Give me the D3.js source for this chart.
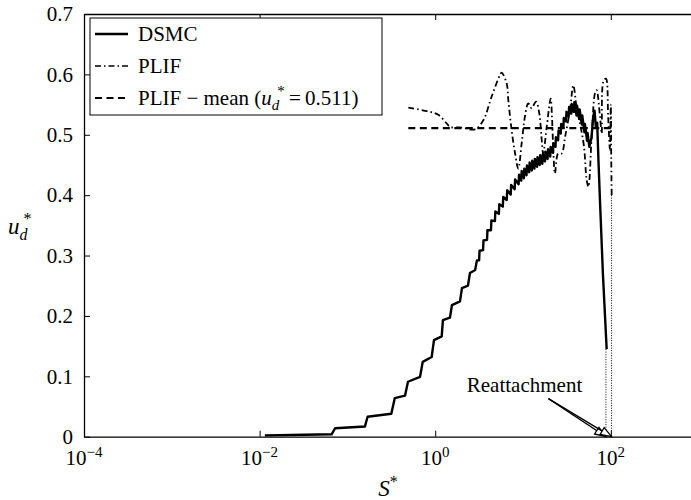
<!DOCTYPE html>
<html><head><meta charset="utf-8">
<script src="https://cdn.jsdelivr.net/npm/d3@7"></script>
<style>
body{margin:0;background:#fff}
svg{display:block;font-family:'Liberation Serif','Times New Roman',serif}
svg text{font-family:'Liberation Serif','Times New Roman',serif !important;fill:#000}
</style>
</head><body>
<svg id="chart" width="691" height="500"></svg>
<script>
// ---------- data ----------
const xTickValues = [1e-4, 1e-2, 1e0, 1e2];
const xTickExponents = ["\u22124", "\u22122", "0", "2"];
const yTickValues = [0, 0.1, 0.2, 0.3, 0.4, 0.5, 0.6, 0.7];
const yTickLabels = ["0", "0.1", "0.2", "0.3", "0.4", "0.5", "0.6", "0.7"];

// DSMC: log10(S*) and u_d*
const dsmcLogS = [
 -1.94, -1.18, -1.14, -0.80, -0.77, -0.50, -0.46, -0.344, -0.31, -0.173, -0.142, -0.04, -0.014,
 0.074, 0.088, 0.168, 0.191, 0.282, 0.305, 0.373, 0.396, 0.455, 0.475,
 0.50, 0.505, 0.545, 0.55, 0.59, 0.595, 0.635, 0.64, 0.68, 0.685, 0.725, 0.73, 0.77, 0.775,
 0.815, 0.82, 0.86, 0.865, 0.905, 0.91, 0.95, 0.955, 0.98, 0.985, 1.01, 1.015, 1.04, 1.045,
 1.07, 1.075, 1.10, 1.105, 1.13, 1.135, 1.16, 1.165, 1.19, 1.195, 1.22, 1.225, 1.25, 1.255,
 1.28, 1.285, 1.31, 1.315, 1.34, 1.345, 1.37, 1.375, 1.40, 1.405, 1.43, 1.435, 1.46, 1.465,
 1.49, 1.495, 1.52, 1.525, 1.55, 1.555, 1.58, 1.585, 1.61, 1.615, 1.64, 1.645, 1.67, 1.675,
 1.70, 1.705, 1.73, 1.735, 1.755, 1.78, 1.80, 1.815, 1.83, 1.845, 1.86, 1.877, 1.91, 1.953
];
const dsmcU = [
 0.002, 0.004, 0.014, 0.017, 0.033, 0.038, 0.064, 0.068, 0.091, 0.099, 0.124, 0.132, 0.160,
 0.166, 0.193, 0.197, 0.218, 0.224, 0.246, 0.250, 0.271, 0.276, 0.292,
 0.292, 0.308, 0.309, 0.325, 0.326, 0.342, 0.342, 0.358, 0.357, 0.373, 0.369, 0.385, 0.381, 0.397,
 0.392, 0.408, 0.401, 0.417, 0.410, 0.426, 0.418, 0.434, 0.424, 0.440, 0.428, 0.444, 0.433, 0.449,
 0.438, 0.454, 0.441, 0.457, 0.444, 0.460, 0.447, 0.463, 0.450, 0.466, 0.452, 0.468, 0.456, 0.472,
 0.460, 0.476, 0.464, 0.480, 0.470, 0.486, 0.480, 0.496, 0.491, 0.507, 0.502, 0.518, 0.512, 0.528,
 0.522, 0.538, 0.530, 0.546, 0.535, 0.551, 0.538, 0.554, 0.532, 0.548, 0.526, 0.542, 0.517, 0.532,
 0.504, 0.518, 0.490, 0.503, 0.480, 0.495, 0.530, 0.540, 0.512, 0.520, 0.455, 0.390, 0.270, 0.145
];

// PLIF
const plifLogS = [
 -0.306, -0.06, 0.036, 0.13, 0.168, 0.30, 0.453, 0.548, 0.642, 0.738, 0.757, 0.814, 0.833, 0.87,
 0.91, 0.946, 0.985, 1.022, 1.06, 1.098, 1.148, 1.186, 1.21, 1.23, 1.27, 1.315, 1.33, 1.345, 1.364,
 1.40, 1.44, 1.48, 1.535, 1.573, 1.61, 1.649, 1.695, 1.725, 1.745, 1.782, 1.82, 1.838, 1.877, 1.896,
 1.915, 1.945, 1.97, 1.99, 2.0, 2.005, 2.01
];
const plifU = [
 0.545, 0.538, 0.533, 0.519, 0.513, 0.512, 0.509, 0.524, 0.563, 0.599, 0.603, 0.585, 0.557, 0.508,
 0.469, 0.444, 0.486, 0.530, 0.552, 0.544, 0.555, 0.535, 0.497, 0.469, 0.513, 0.560, 0.530, 0.475, 0.436,
 0.469, 0.469, 0.497, 0.541, 0.582, 0.546, 0.519, 0.480, 0.425, 0.414, 0.497, 0.569, 0.574, 0.530, 0.502,
 0.588, 0.593, 0.530, 0.475, 0.550, 0.460, 0.400
];

// PLIF mean
const plifMeanValue = 0.511;
const plifMeanS = [0.494, 102];

// reattachment markers (dotted verticals) and annotation
const reattachS = [88, 102];
const reattachTop = [0.145, 0.400];
const annotationText = "Reattachment";
const annotationAnchor = [10.4, 0.074];   // S*, u_d* of text baseline centre
const arrowStart = [19.5, 0.063];

// ---------- layout ----------
const FONT = "'Liberation Serif','Times New Roman',serif";
const svg = d3.select("#chart");
const mLeft = 84, mRight = 698.6, mTop = 14, mBottom = 436.7;
const x = d3.scaleLog().domain([1e-4, 1e3]).range([mLeft, mRight]);
const y = d3.scaleLinear().domain([0, 0.7]).range([mBottom, mTop]);

svg.append("defs").append("clipPath").attr("id", "plotclip")
  .append("rect").attr("x", mLeft).attr("y", mTop).attr("width", mRight - mLeft).attr("height", mBottom - mTop);

const plot = svg.append("g").attr("clip-path", "url(#plotclip)");

const line = d3.line().x(d => x(d[0])).y(d => y(d[1]));
const smooth = d3.line().x(d => x(d[0])).y(d => y(d[1])).curve(d3.curveCatmullRom.alpha(0.5));

const dsmc = dsmcLogS.map((v, i) => [Math.pow(10, v), dsmcU[i]]);
const plif = plifLogS.map((v, i) => [Math.pow(10, v), plifU[i]]);

// PLIF mean dashed
plot.append("path")
  .attr("d", line([[plifMeanS[0], plifMeanValue], [plifMeanS[1], plifMeanValue]]))
  .attr("fill", "none").attr("stroke", "#000").attr("stroke-width", 2.2)
  .attr("stroke-dasharray", "7,4.5");

// PLIF dash-dot
plot.append("path")
  .attr("d", smooth(plif))
  .attr("fill", "none").attr("stroke", "#000").attr("stroke-width", 1.8)
  .attr("stroke-dasharray", "6,3,1.5,3");

// reattachment dotted lines
reattachS.forEach((s, i) => {
  plot.append("path")
    .attr("d", line([[s, reattachTop[i]], [s, 0]]))
    .attr("fill", "none").attr("stroke", "#000").attr("stroke-width", 1)
    .attr("stroke-dasharray", "1,1.5");
});

// DSMC solid
plot.append("path")
  .attr("d", line(dsmc))
  .attr("fill", "none").attr("stroke", "#000").attr("stroke-width", 2.4)
  .attr("stroke-linejoin", "round");

// ---------- axes ----------
const axG = svg.append("g");
const xb = axG.append("g").attr("transform", `translate(0,${mBottom})`)
  .call(d3.axisBottom(x).tickValues(xTickValues).tickSizeInner(-6).tickSizeOuter(0).tickFormat(""));
const xt = axG.append("g").attr("transform", `translate(0,${mTop})`)
  .call(d3.axisTop(x).tickValues(xTickValues).tickSizeInner(-6).tickSizeOuter(0).tickFormat(""));
const yl = axG.append("g").attr("transform", `translate(${mLeft},0)`)
  .call(d3.axisLeft(y).tickValues(yTickValues).tickSizeInner(-6).tickSizeOuter(0)
    .tickFormat((d, i) => yTickLabels[i]).tickPadding(11));
[xb, xt, yl].forEach(g => {
  g.attr("font-family", FONT);
  g.selectAll("path.domain").attr("stroke", "#000").attr("stroke-width", 1.3);
  g.selectAll(".tick line").attr("stroke", "#000").attr("stroke-width", 1);
});
yl.selectAll("text").attr("font-size", 21).attr("font-family", FONT);

// x tick labels with superscripts
xTickValues.forEach((v, i) => {
  const t = svg.append("text").attr("x", x(v)).attr("y", 465)
    .attr("text-anchor", "middle").attr("font-size", 21).attr("font-family", FONT);
  t.append("tspan").text("10");
  t.append("tspan").attr("dy", -8).attr("font-size", 15).text(xTickExponents[i]);
});

// axis labels
const xl = svg.append("text").attr("x", 388).attr("y", 496).attr("text-anchor", "middle")
  .attr("font-size", 23).attr("font-family", FONT);
xl.append("tspan").attr("font-style", "italic").text("S");
xl.append("tspan").attr("dy", -9).attr("font-size", 16).text("*");

const ylab = svg.append("text").attr("x", 8).attr("y", 234).attr("font-size", 23).attr("font-family", FONT);
ylab.append("tspan").attr("font-style", "italic").text("u");
ylab.append("tspan").attr("font-style", "italic").attr("font-size", 16).attr("dy", 6).text("d");
ylab.append("tspan").attr("font-size", 16).attr("dx", -4).attr("dy", -16).text("*");

// ---------- annotation ----------
svg.append("text").attr("x", x(annotationAnchor[0])).attr("y", y(annotationAnchor[1]))
  .attr("text-anchor", "middle").attr("font-size", 21).attr("font-family", FONT).text(annotationText);
reattachS.forEach(s => {
  const x0 = x(arrowStart[0]), y0 = y(arrowStart[1]);
  const x1 = x(s), y1 = y(0);
  const ang = Math.atan2(y1 - y0, x1 - x0);
  const L = 11, W = 4;
  svg.append("line").attr("x1", x0).attr("y1", y0).attr("x2", x1 - Math.cos(ang) * 4).attr("y2", y1 - Math.sin(ang) * 4)
    .attr("stroke", "#000").attr("stroke-width", 1.3);
  const bx = x1 - Math.cos(ang) * L, by = y1 - Math.sin(ang) * L;
  const px = -Math.sin(ang) * W, py = Math.cos(ang) * W;
  svg.append("path")
    .attr("d", `M${x1},${y1}L${bx + px},${by + py}L${bx - px},${by - py}Z`)
    .attr("fill", "#fff").attr("stroke", "#000").attr("stroke-width", 1.3);
});

// ---------- legend ----------
const lg = svg.append("g").attr("transform", "translate(90,18)");
lg.append("rect").attr("width", 292).attr("height", 97).attr("fill", "#fff")
  .attr("stroke", "#000").attr("stroke-width", 1);
const rows = [
  {y: 16, dash: null, w: 2.4},
  {y: 48, dash: "6,3,1.5,3", w: 1.3},
  {y: 80, dash: "7,4.5", w: 2.2}
];
rows.forEach(r => {
  const l = lg.append("line").attr("x1", 5).attr("x2", 38).attr("y1", r.y).attr("y2", r.y)
    .attr("stroke", "#000").attr("stroke-width", r.w);
  if (r.dash) l.attr("stroke-dasharray", r.dash);
});
lg.append("text").attr("x", 48).attr("y", rows[0].y + 7).attr("font-size", 21).attr("font-family", FONT).text("DSMC");
lg.append("text").attr("x", 48).attr("y", rows[1].y + 7).attr("font-size", 21).attr("font-family", FONT).text("PLIF");
const t3 = lg.append("text").attr("x", 48).attr("y", rows[2].y + 7).attr("font-size", 21).attr("font-family", FONT);
t3.append("tspan").text("PLIF \u2212 mean (");
t3.append("tspan").attr("font-style", "italic").text("u");
t3.append("tspan").attr("font-style", "italic").attr("font-size", 15).attr("dy", 5).text("d");
t3.append("tspan").attr("font-size", 15).attr("dx", -2).attr("dy", -14).text("*");
t3.append("tspan").attr("dy", 9).text("\u2009=\u20090.511)");
</script>
</body></html>
